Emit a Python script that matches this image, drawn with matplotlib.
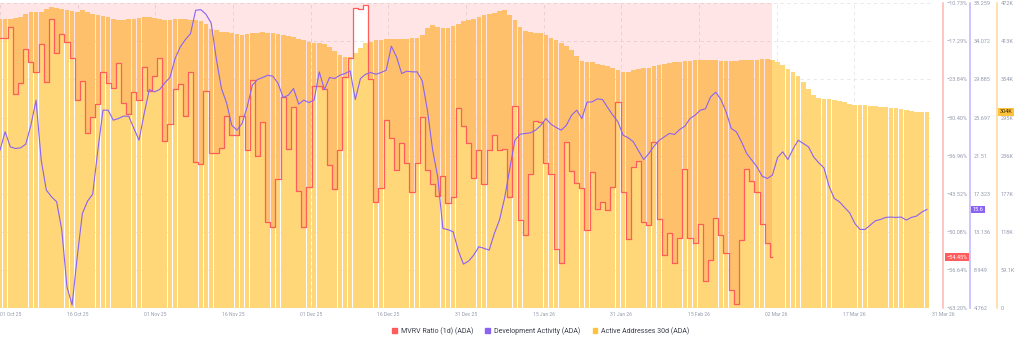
import numpy as np
import matplotlib
matplotlib.use("Agg")
from matplotlib import pyplot as plt
from matplotlib.patches import Patch

plt.rcParams['font.family'] = ['Roboto', 'DejaVu Sans']

# MVRV Ratio (1d), percent, one value per day from 01 Oct 25
mvrv = [-16.76, -16.76, -14.87, -26.41, -24.40, -18.66, -20.78, -22.50, -17.74, -24.28,
        -13.49, -19.23, -16.07, -17.45, -20.09, -27.38, -24.05, -33.12, -30.37, -28.07,
        -22.50, -24.40, -25.37, -20.95, -27.96, -29.79, -25.95, -27.38, -21.64, -25.77,
        -23.25, -20.21, -34.44, -31.57, -25.55, -24.68, -30.08, -22.50, -38.12, -38.40,
        -25.83, -36.57, -36.45, -35.59, -30.08, -33.41, -33.41, -30.14, -35.93, -23.94,
        -36.97, -31.23, -48.45, -49.19, -40.99, -26.81, -35.82, -28.65, -43.11, -49.31,
        -42.36, -24.97, -24.97, -25.55, -38.58, -42.77, -35.99, -23.48, -20.21, -11.60,
        -11.77, -11.02, -23.82, -44.89, -42.48, -30.83, -33.98, -39.44, -34.73, -38.17,
        -43.28, -38.17, -30.25, -39.44, -41.90, -43.91, -40.41, -45.06, -44.03, -28.70,
        -31.86, -34.84, -40.87, -35.99, -41.90, -35.99, -33.41, -35.99, -35.82, -44.03,
        -28.36, -48.05, -50.63, -40.18, -30.94, -31.11, -38.17, -40.18, -53.10, -55.39,
        -34.56, -39.55, -41.62, -42.59, -49.77, -39.84, -46.21, -44.89, -46.32, -42.30,
        -27.67, -43.17, -51.38, -38.86, -37.89, -48.33, -48.91, -34.56, -47.93, -54.07,
        -50.34, -55.39, -51.20, -39.32, -51.20, -51.95, -48.73, -58.55, -54.93, -47.76,
        -50.63, -53.79, -60.10, -62.57, -51.49, -39.26, -41.27, -43.17, -48.73, -52.06,
        -54.45]

# Development Activity
dev_activity = [22.12, 24.13, 22.48, 22.30, 22.37, 22.77, 24.86, 27.61, 21.02, 17.72,
                16.99, 16.44, 13.33, 7.11, 5.09, 10.40, 15.16, 16.51, 17.28, 22.12,
                26.51, 26.51, 25.41, 25.59, 25.85, 25.85, 24.50, 23.21, 26.14, 28.78,
                28.52, 28.78, 29.51, 30.10, 32.18, 33.46, 34.27, 34.93, 37.49, 37.56,
                37.05, 36.10, 32.18, 28.89, 27.31, 24.86, 24.31, 25.04, 26.87, 29.25,
                29.88, 30.10, 30.35, 30.24, 29.44, 27.90, 28.16, 28.89, 27.17, 27.61,
                27.35, 27.61, 30.72, 28.78, 30.10, 29.99, 30.35, 30.54, 30.83, 27.68,
                29.99, 30.46, 30.65, 30.46, 30.65, 30.90, 33.54, 32.37, 30.54, 30.79,
                30.72, 30.72, 29.73, 26.51, 22.19, 19.19, 13.51, 13.37, 13.15, 11.06,
                9.59, 9.92, 10.58, 11.50, 11.32, 11.13, 12.96, 14.43, 16.88, 20.10,
                23.21, 23.87, 23.95, 24.02, 24.31, 24.82, 25.59, 24.97, 24.61, 24.31,
                24.86, 25.96, 26.51, 25.59, 27.39, 27.42, 27.75, 27.68, 26.80, 25.96,
                25.23, 23.76, 23.47, 23.03, 22.04, 21.09, 21.75, 22.55, 23.18, 23.58,
                23.95, 23.84, 24.39, 24.75, 25.59, 25.96, 26.51, 26.66, 27.97, 28.49,
                27.68, 26.33, 24.50, 24.13, 23.03, 21.75, 21.02, 20.28, 19.26, 19.00,
                19.37, 21.31, 21.93, 21.09, 22.23, 23.21, 22.85, 22.48, 21.38, 20.72,
                20.18, 18.16, 16.81, 16.44, 15.82, 15.23, 14.06, 13.40, 13.40, 13.88,
                14.35, 14.50, 14.72, 14.76, 14.72, 14.76, 14.43, 14.72, 14.87, 15.30,
                15.60]

# Active Addresses 30d, thousands
active_addr = [448.3, 448.3, 448.3, 449.5, 451.1, 455.0, 458.5, 458.5, 458.8, 462.7,
               466.3, 465.0, 462.7, 461.2, 460.4, 458.5, 461.2, 458.8, 455.7, 453.4,
               451.9, 450.8, 447.2, 445.7, 445.7, 447.2, 448.3, 449.5, 450.8, 450.8,
               449.5, 448.3, 446.5, 446.5, 447.2, 448.3, 447.2, 445.7, 445.7, 444.1,
               439.5, 432.5, 430.2, 427.9, 427.1, 425.6, 424.8, 422.5, 424.0, 425.6,
               426.3, 427.1, 426.3, 425.6, 424.0, 422.5, 420.9, 419.4, 417.1, 414.7,
               412.4, 410.9, 410.1, 409.3, 403.9, 397.7, 392.3, 388.4, 389.2, 394.6,
               402.4, 410.1, 412.4, 414.7, 415.5, 416.3, 416.3, 416.3, 416.3, 417.1,
               417.8, 417.8, 422.5, 433.3, 437.9, 434.8, 433.3, 433.3, 436.4, 440.3,
               444.9, 446.5, 448.0, 450.3, 453.4, 455.0, 456.5, 460.4, 461.9, 453.4,
               445.7, 434.8, 428.7, 427.1, 426.3, 425.6, 422.5, 418.6, 414.7, 410.1,
               405.4, 399.3, 390.0, 383.0, 381.5, 380.7, 378.4, 376.8, 374.5, 372.2,
               368.3, 365.2, 366.0, 368.3, 370.6, 371.4, 371.4, 374.5, 376.8, 378.4,
               379.9, 380.7, 381.5, 382.2, 383.0, 383.8, 383.8, 383.8, 383.8, 383.8,
               383.0, 382.2, 382.2, 383.0, 383.8, 383.8, 383.8, 384.5, 385.3, 385.3,
               383.8, 380.7, 376.0, 370.6, 365.2, 359.0, 349.7, 338.9, 329.6, 325.7,
               324.2, 323.4, 322.7, 320.3, 318.8, 316.5, 314.9, 314.1, 314.1, 313.4,
               312.6, 311.8, 311.0, 310.3, 309.5, 308.7, 307.2, 305.6, 304.1, 303.3,
               304.0]

date_labels = ['01 Oct 25', '16 Oct 25', '01 Nov 25', '16 Nov 25', '01 Dec 25',
               '16 Dec 25', '31 Dec 25', '15 Jan 26', '31 Jan 26', '15 Feb 26',
               '02 Mar 26', '17 Mar 26', '31 Mar 26']
mvrv_ticks = [-10.73, -17.29, -23.84, -30.40, -36.96, -43.52, -50.08, -56.64, -63.20]
dev_ticks = [38.259, 34.072, 29.885, 25.697, 21.51, 17.323, 13.136, 8.949, 4.762]
aa_ticks = [472, 413, 354, 295, 236, 177, 118, 59.1, 0]
aa_tick_labels = ['472K', '413K', '354K', '295K', '236K', '177K', '118K', '59.1K', '0']

RED = '#ff5c5c'
PURPLE = '#8a63f2'
YELLOW = '#ffd678'
GRAY = '#959bad'

days_aa = np.arange(len(active_addr))
days_mvrv = np.arange(len(mvrv))
days_dev = np.arange(len(dev_activity))
n_days = len(active_addr)

def pct(v):
    return ('%.2f%%' % v).replace('-', '\u2212')

fig = plt.figure(figsize=(10.24, 3.46), dpi=100)
ax = fig.add_axes([0, 0.1098, 0.9102, 0.8807])
ax_m = ax.twinx()
ax_d = ax.twinx()

# active addresses bars (back)
ax.bar(days_aa, active_addr, width=0.9, color=YELLOW, linewidth=0, zorder=2)
ax.set_ylim(0, 472)
ax.set_xlim(0, n_days)
ax.set_axisbelow(True)
ax.grid(True, color='#e4e4ea', linestyle=(0, (4, 4)), linewidth=0.6, zorder=0)
ax.yaxis.tick_right()
ax.set_yticks(aa_ticks, aa_tick_labels)
ax.set_xticks(np.linspace(0, n_days, len(date_labels)), date_labels)
ax.text(0.53, 0.55, 'santiment', transform=ax.transAxes, fontsize=34,
        color='#000000', alpha=0.03, ha='center', va='center', zorder=1)

# MVRV step line with fill to the top
ax_m.fill_between(days_mvrv, mvrv, 0, step='mid', color='#ff0005', alpha=0.1,
                  linewidth=0)
ax_m.step(days_mvrv, mvrv, where='mid', color=RED, linewidth=0.9)
ax_m.set_ylim(-63.20, -10.73)
ax_m.set_yticks(mvrv_ticks, [pct(v) for v in mvrv_ticks])

# development activity
ax_d.plot(days_dev, dev_activity, color=PURPLE, linewidth=0.8)
ax_d.set_ylim(4.762, 38.259)
ax_d.set_yticks(dev_ticks, ['%g' % v for v in dev_ticks])

for a in (ax, ax_m, ax_d):
    for s in a.spines.values():
        s.set_visible(False)
    a.tick_params(axis='y', length=0, labelsize=4, labelcolor=GRAY, pad=2.6)
ax.tick_params(axis='x', length=0, labelsize=3.6, labelcolor=GRAY, pad=3)
xl = ax.get_xticklabels()
xl[0].set_ha('left')
xl[-1].set_ha('left')

spine_pos = [(ax_m, 1.0118, '#ffb5b5'), (ax_d, 1.0408, '#c2b3ff'), (ax, 1.0697, '#ffd89a')]
for a, pos, col in spine_pos:
    sp = a.spines['right']
    sp.set_visible(True)
    sp.set_position(('axes', pos))
    sp.set_color(col)
    sp.set_linewidth(1.1)

# last value badges
ax_m.text(1.015, mvrv[-1], pct(mvrv[-1]), transform=ax_m.get_yaxis_transform(),
          fontsize=4, color='white', va='center', ha='left',
          bbox=dict(boxstyle='square,pad=0.25', fc=RED, ec='none'))
ax_d.text(1.0435, dev_activity[-1], '%.1f' % dev_activity[-1],
          transform=ax_d.get_yaxis_transform(), fontsize=4, color='white',
          va='center', ha='left', bbox=dict(boxstyle='square,pad=0.25', fc=PURPLE, ec='none'))
ax.text(1.0725, active_addr[-1], '%dK' % round(active_addr[-1]),
        transform=ax.get_yaxis_transform(), fontsize=4, color='#3a2c00',
        va='center', ha='left', bbox=dict(boxstyle='square,pad=0.25', fc='#ffc23d', ec='none'))

handles = [Patch(color=RED), Patch(color=PURPLE), Patch(color='#ffc23d')]
names = ['MVRV Ratio (1d) (ADA)', 'Development Activity (ADA)', 'Active Addresses 30d (ADA)']
fig.legend(handles, names, loc='center', bbox_to_anchor=(0.528, 1 - 331 / 346), ncol=3,
           frameon=False, fontsize=5, handlelength=0.7, handleheight=0.7,
           handletextpad=0.5, columnspacing=1.8, labelcolor='#3c3f4c')

fig.savefig('out.png', dpi=100)
